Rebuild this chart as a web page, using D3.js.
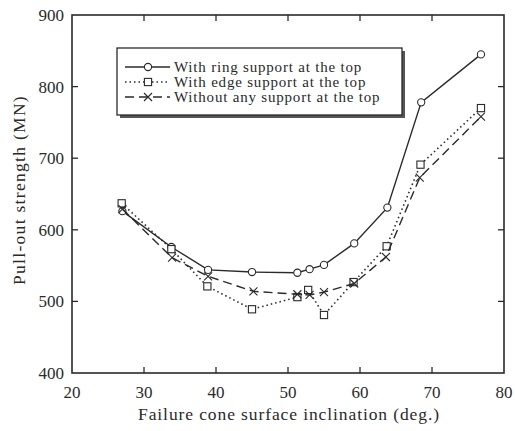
<!DOCTYPE html>
<html>
<head>
<meta charset="utf-8">
<script src="https://cdn.jsdelivr.net/npm/d3@7"></script>
<style>
  body { margin: 0; background: #fff; }
  text { font-family: "Liberation Serif", "DejaVu Serif", serif; fill: #2a2a2a; }
</style>
</head>
<body>
<div id="chart"></div>
<script>
// values
var ringX    = [27, 33.8, 38.9, 45, 51.3, 53, 55, 59.2, 63.8, 68.5, 76.8];
var ringY    = [626, 576, 544, 541, 540, 545, 551, 581, 631, 778, 845];
var edgeX    = [26.9, 33.8, 38.8, 45, 51.3, 52.8, 55, 59.1, 63.7, 68.4, 76.8];
var edgeY    = [637, 573, 521, 489, 506, 516, 481, 527, 577, 691, 770];
var noneX    = [27, 33.9, 38.9, 45.2, 51.3, 53, 55, 59.2, 63.6, 68.3, 76.8];
var noneY    = [629, 561, 535, 514, 510, 509, 513, 525, 562, 673, 758];
var xTicks   = [20, 30, 40, 50, 60, 70, 80];
var yTicks   = [400, 500, 600, 700, 800, 900];
var legendLabels = ["With ring support at the top", "With edge support at the top", "Without any support at the top"];

var W = 515, H = 431;
var ink = "#2a2a2a";

var svg = d3.select("#chart").append("svg")
  .attr("width", W).attr("height", H);

var x = d3.scaleLinear().domain([20, 80]).range([72, 504]);
var y = d3.scaleLinear().domain([400, 900]).range([373, 15]);

// frame
svg.append("rect")
  .attr("x", x(20)).attr("y", y(900))
  .attr("width", x(80) - x(20)).attr("height", y(400) - y(900))
  .attr("fill", "none").attr("stroke", ink).attr("stroke-width", 1.6);

// inward ticks, all four sides
var tk = 6;
xTicks.slice(1, -1).forEach(function (v) {
  svg.append("line").attr("x1", x(v)).attr("x2", x(v)).attr("y1", y(400)).attr("y2", y(400) - tk)
    .attr("stroke", ink).attr("stroke-width", 1.3);
  svg.append("line").attr("x1", x(v)).attr("x2", x(v)).attr("y1", y(900)).attr("y2", y(900) + tk)
    .attr("stroke", ink).attr("stroke-width", 1.3);
});
yTicks.slice(1, -1).forEach(function (v) {
  svg.append("line").attr("x1", x(20)).attr("x2", x(20) + tk).attr("y1", y(v)).attr("y2", y(v))
    .attr("stroke", ink).attr("stroke-width", 1.3);
  svg.append("line").attr("x1", x(80)).attr("x2", x(80) - tk).attr("y1", y(v)).attr("y2", y(v))
    .attr("stroke", ink).attr("stroke-width", 1.3);
});

// tick labels
svg.selectAll(".xl").data(xTicks).enter().append("text")
  .attr("x", function (d) { return x(d); }).attr("y", 398)
  .attr("text-anchor", "middle").attr("font-size", 17)
  .text(function (d) { return d; });
svg.selectAll(".yl").data(yTicks).enter().append("text")
  .attr("x", 64).attr("y", function (d) { return y(d) + 6; })
  .attr("text-anchor", "end").attr("font-size", 17)
  .text(function (d) { return d; });

// axis titles
svg.append("text").attr("x", 289).attr("y", 420)
  .attr("text-anchor", "middle").attr("font-size", 17.5).attr("letter-spacing", 0.9)
  .text("Failure cone surface inclination (deg.)");
svg.append("text").attr("transform", "translate(25,190) rotate(-90)")
  .attr("text-anchor", "middle").attr("font-size", 17.5).attr("letter-spacing", 1.3)
  .text("Pull-out strength (MN)");

// series
var series = [
  { xs: ringX, ys: ringY, dash: null, mark: "circle" },
  { xs: edgeX, ys: edgeY, dash: "1.5,3", mark: "square" },
  { xs: noneX, ys: noneY, dash: "9,5", mark: "cross" }
];

function drawMark(g, kind, cx, cy) {
  if (kind == "circle")
    g.append("circle").attr("cx", cx).attr("cy", cy).attr("r", 3.6)
      .attr("fill", "#fff").attr("stroke", ink).attr("stroke-width", 1.1);
  else if (kind == "square")
    g.append("rect").attr("x", cx - 3.6).attr("y", cy - 3.6).attr("width", 7.2).attr("height", 7.2)
      .attr("fill", "#fff").attr("stroke", ink).attr("stroke-width", 1.1);
  else
    g.append("path").attr("d", "M" + (cx - 4) + "," + (cy - 4) + "L" + (cx + 4) + "," + (cy + 4) +
      "M" + (cx - 4) + "," + (cy + 4) + "L" + (cx + 4) + "," + (cy - 4))
      .attr("stroke", ink).attr("stroke-width", 1.1);
}

var line = d3.line().x(function (d) { return x(d[0]); }).y(function (d) { return y(d[1]); });

series.forEach(function (s) {
  var pts = d3.zip(s.xs, s.ys);
  svg.append("path").datum(pts)
    .attr("fill", "none").attr("stroke", ink).attr("stroke-width", s.mark == "square" ? 1.6 : 1.4)
    .attr("stroke-dasharray", s.dash)
    .attr("d", line);
  var g = svg.append("g");
  pts.forEach(function (p) { drawMark(g, s.mark, x(p[0]), y(p[1])); });
});

// legend with drop shadow
var lx = 117, ly = 48, lw = 285, lh = 67;
svg.append("rect").attr("x", lx + 3).attr("y", ly + 3).attr("width", lw).attr("height", lh)
  .attr("fill", "#555");
svg.append("rect").attr("x", lx).attr("y", ly).attr("width", lw).attr("height", lh)
  .attr("fill", "#fff").attr("stroke", ink).attr("stroke-width", 1.3);

legendLabels.forEach(function (lab, i) {
  var s = series[i];
  var yy = 67 + i * 15;
  svg.append("line").attr("x1", 125).attr("x2", 170).attr("y1", yy).attr("y2", yy)
    .attr("stroke", ink).attr("stroke-width", 1.3).attr("stroke-dasharray", s.dash);
  drawMark(svg, s.mark, 148, yy);
  svg.append("text").attr("x", 174).attr("y", yy + 4.5)
    .attr("font-size", 15).attr("letter-spacing", 0.8).text(lab);
});
</script>
</body>
</html>
